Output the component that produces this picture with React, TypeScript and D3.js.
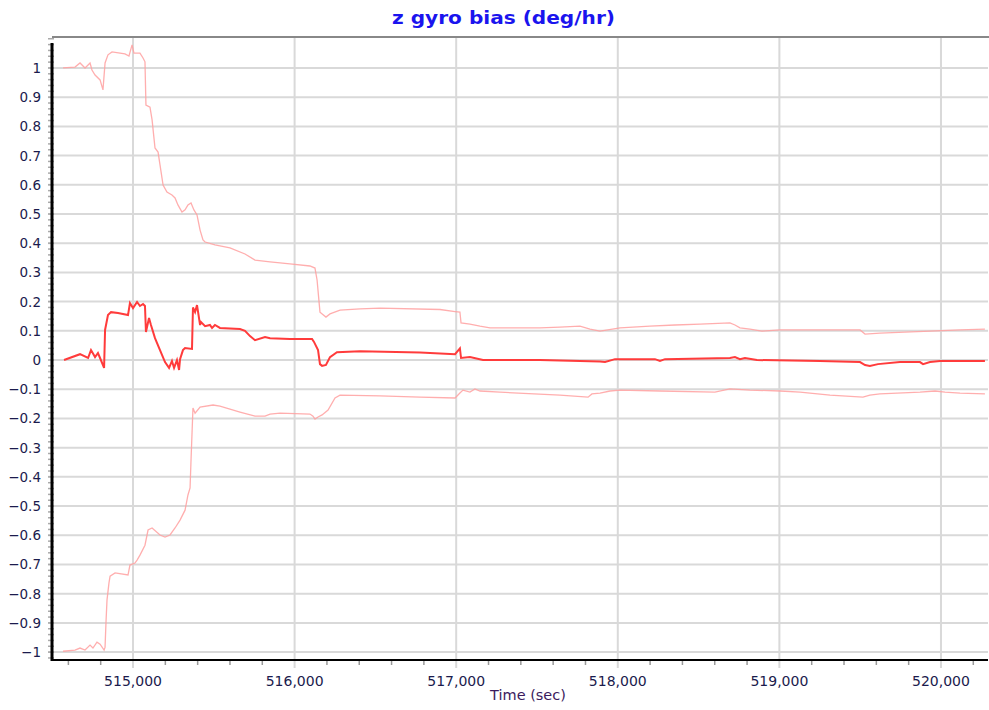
import React from "react";
import * as d3 from "d3";

const title = "z gyro bias (deg/hr)";
const xAxisTitle = "Time (sec)";
const xDomain: [number, number] = [514511, 520291];
const yDomain: [number, number] = [-1.027, 1.106];
const xMajorTicks = [515000, 516000, 517000, 518000, 519000, 520000];
const yMajorTicks = d3.range(-10, 11).map((i) => i / 10);

// bias estimate
const biasT = [514573, 514672, 514722, 514740, 514765, 514783, 514796, 514821, 514827, 514845, 514864, 514907, 514969, 514981, 515000, 515025, 515043, 515062, 515074, 515080, 515099, 515111, 515136, 515167, 515198, 515223, 515241, 515254, 515272, 515285, 515291, 515309, 515322, 515365, 515371, 515384, 515396, 515415, 515421, 515446, 515476, 515489, 515507, 515538, 515662, 515693, 515724, 515755, 515817, 515848, 515971, 516108, 516120, 516145, 516157, 516170, 516194, 516219, 516262, 516405, 516776, 516993, 517023, 517030, 517085, 517166, 517518, 517890, 517921, 517983, 518075, 518230, 518261, 518292, 518694, 518725, 518756, 518787, 518861, 519251, 519499, 519530, 519560, 519610, 519746, 519870, 519889, 519932, 519994, 520272];
const biasV = [0, 0.02, 0.007, 0.034, 0.01, 0.024, 0.007, -0.027, 0.103, 0.154, 0.164, 0.161, 0.154, 0.195, 0.178, 0.199, 0.185, 0.192, 0.185, 0.096, 0.144, 0.12, 0.075, 0.034, -0.007, -0.027, -0.003, -0.027, 0, -0.034, 0.003, 0.034, 0.041, 0.038, 0.18, 0.164, 0.188, 0.12, 0.13, 0.116, 0.12, 0.11, 0.12, 0.11, 0.106, 0.1, 0.082, 0.068, 0.079, 0.075, 0.072, 0.072, 0.062, 0.034, -0.014, -0.02, -0.017, 0.01, 0.027, 0.03, 0.026, 0.02, 0.04, 0.007, 0.01, 0, 0, -0.005, -0.007, 0.003, 0.003, 0.003, -0.003, 0.003, 0.007, 0.01, 0.003, 0.007, 0, -0.003, -0.007, -0.017, -0.02, -0.014, -0.007, -0.007, -0.014, -0.007, -0.003, -0.003];

// upper bound
const upperT = [514567, 514641, 514672, 514703, 514734, 514746, 514765, 514796, 514814, 514827, 514845, 514870, 514950, 514975, 514994, 515006, 515043, 515062, 515074, 515080, 515105, 515118, 515136, 515155, 515167, 515186, 515210, 515241, 515260, 515278, 515303, 515322, 515340, 515359, 515377, 515396, 515415, 515433, 515446, 515507, 515600, 515693, 515755, 515848, 515971, 516095, 516126, 516139, 516157, 516194, 516219, 516281, 516405, 516528, 516900, 516993, 517023, 517030, 517085, 517147, 517209, 517518, 517642, 517766, 517828, 517890, 518014, 518199, 518354, 518509, 518694, 518725, 518756, 518818, 518892, 519004, 519499, 519530, 519622, 519932, 520118, 520272];
const upperV = [1.0, 1.003, 1.017, 1.0, 1.017, 0.993, 0.976, 0.959, 0.925, 1.017, 1.045, 1.055, 1.048, 1.041, 1.079, 1.051, 1.051, 1.034, 1.021, 0.873, 0.866, 0.822, 0.726, 0.712, 0.668, 0.599, 0.575, 0.565, 0.555, 0.531, 0.507, 0.514, 0.531, 0.538, 0.514, 0.497, 0.445, 0.411, 0.404, 0.394, 0.384, 0.363, 0.342, 0.336, 0.329, 0.322, 0.315, 0.274, 0.164, 0.147, 0.158, 0.171, 0.175, 0.178, 0.173, 0.166, 0.164, 0.127, 0.123, 0.116, 0.11, 0.11, 0.113, 0.116, 0.106, 0.099, 0.11, 0.116, 0.12, 0.123, 0.127, 0.12, 0.11, 0.106, 0.099, 0.103, 0.103, 0.089, 0.092, 0.099, 0.103, 0.106];

// lower bound
const lowerT = [514567, 514641, 514672, 514703, 514734, 514752, 514777, 514796, 514821, 514827, 514833, 514839, 514851, 514858, 514889, 514969, 514981, 515012, 515025, 515043, 515074, 515093, 515118, 515167, 515198, 515229, 515260, 515291, 515322, 515340, 515353, 515359, 515371, 515384, 515415, 515495, 515538, 515662, 515755, 515817, 515848, 515910, 516095, 516114, 516126, 516145, 516170, 516207, 516250, 516281, 516528, 516776, 516993, 517023, 517042, 517085, 517116, 517147, 517271, 517642, 517816, 517840, 517890, 517952, 518014, 518261, 518601, 518694, 518818, 519004, 519128, 519313, 519517, 519560, 519622, 519870, 519963, 520025, 520118, 520272];
const lowerV = [-0.997, -0.993, -0.986, -0.993, -0.976, -0.986, -0.966, -0.973, -0.993, -0.983, -0.894, -0.822, -0.764, -0.74, -0.729, -0.736, -0.702, -0.695, -0.685, -0.668, -0.634, -0.582, -0.575, -0.599, -0.606, -0.599, -0.575, -0.548, -0.514, -0.462, -0.438, -0.342, -0.164, -0.182, -0.161, -0.154, -0.158, -0.178, -0.192, -0.192, -0.185, -0.182, -0.185, -0.192, -0.202, -0.195, -0.188, -0.171, -0.13, -0.12, -0.123, -0.127, -0.13, -0.113, -0.103, -0.11, -0.099, -0.106, -0.11, -0.12, -0.127, -0.116, -0.113, -0.106, -0.103, -0.106, -0.11, -0.099, -0.103, -0.106, -0.11, -0.12, -0.127, -0.12, -0.116, -0.11, -0.106, -0.11, -0.113, -0.116];

const W = 989;
const H = 710;
const plotLeft = 54;
const plotRight = 988;
const plotTop = 37;
const plotBottom = 660;
const FONT = "'DejaVu Sans', Verdana, sans-serif";

export default function App() {
  const x = d3.scaleLinear().domain(xDomain).range([plotLeft, plotRight]);
  const y = d3.scaleLinear().domain(yDomain).range([plotBottom, plotTop]);
  const line = d3
    .line<[number, number]>()
    .x((d) => x(d[0]))
    .y((d) => y(d[1]))
    .curve(d3.curveLinear);
  const zip = (t: number[], v: number[]) => t.map((tt, i) => [tt, v[i]] as [number, number]);

  const xMinor = d3.range(514600, xDomain[1], 200).filter((t) => t % 1000 !== 0);
  const yMinor = d3.range(-51, 56).map((i) => i * 0.02).filter((v) => v >= yDomain[0] && v <= yDomain[1]);

  return (
    <svg width={W} height={H} style={{ display: "block", position: "absolute", left: 0, top: 0 }}>
      <rect x={0} y={0} width={W} height={H} fill="#ffffff" />
      <text x={392} y={24} fontFamily={FONT} fontWeight="bold" fontSize={18} fill="#1a14ee" textLength={223} lengthAdjust="spacingAndGlyphs">
        {title}
      </text>
      {/* horizontal grid */}
      {yMajorTicks.map((v) => (
        <line key={"gy" + v} x1={plotLeft - 6} x2={plotRight} y1={y(v)} y2={y(v)} stroke="#d9d9d9" strokeWidth={2} />
      ))}
      {/* vertical grid */}
      {xMajorTicks.map((t) => (
        <line key={"gx" + t} x1={x(t)} x2={x(t)} y1={plotTop} y2={plotBottom + 8} stroke="#d9d9d9" strokeWidth={2} />
      ))}
      {/* top border */}
      <line x1={plotLeft - 2} x2={W} y1={plotTop} y2={plotTop} stroke="#888888" strokeWidth={2} />
      {/* minor ticks */}
      {xMinor.map((t) => (
        <line key={"mx" + t} x1={x(t)} x2={x(t)} y1={plotBottom} y2={plotBottom + 5} stroke="#999999" strokeWidth={1.5} />
      ))}
      {yMinor.map((v, i) => (
        <line key={"my" + i} x1={plotLeft - 6} x2={plotLeft} y1={y(v)} y2={y(v)} stroke="#aaaaaa" strokeWidth={1.5} />
      ))}
      {/* series */}
      <path d={line(zip(upperT, upperV)) || ""} fill="none" stroke="#ffa0a0" strokeWidth={1.3} strokeOpacity={0.85} />
      <path d={line(zip(lowerT, lowerV)) || ""} fill="none" stroke="#ffa0a0" strokeWidth={1.3} strokeOpacity={0.85} />
      <path d={line(zip(biasT, biasV)) || ""} fill="none" stroke="#ff3b3b" strokeWidth={2} />
      {/* axes */}
      <line x1={plotLeft - 2} x2={plotLeft - 2} y1={plotTop + 6} y2={plotBottom + 1} stroke="#000000" strokeWidth={3} />
      <line x1={plotLeft - 3} x2={plotRight} y1={plotBottom} y2={plotBottom} stroke="#000000" strokeWidth={2} />
      {/* y labels */}
      {yMajorTicks.map((v) => (
        <text key={"ly" + v} x={41} y={y(v) + 5} textAnchor="end" fontFamily={FONT} fontSize={13.5} fill="#1b1b4d">
          {d3.format("")(Math.round(v * 10) / 10)}
        </text>
      ))}
      {/* x labels */}
      {xMajorTicks.map((t) => (
        <text key={"lx" + t} x={x(t)} y={686} textAnchor="middle" fontFamily={FONT} fontSize={14} fill="#1b1b4d">
          {d3.format(",")(t)}
        </text>
      ))}
      <text x={528} y={700} textAnchor="middle" fontFamily={FONT} fontSize={14.5} fill="#3b1b5d">
        {xAxisTitle}
      </text>
    </svg>
  );
}
